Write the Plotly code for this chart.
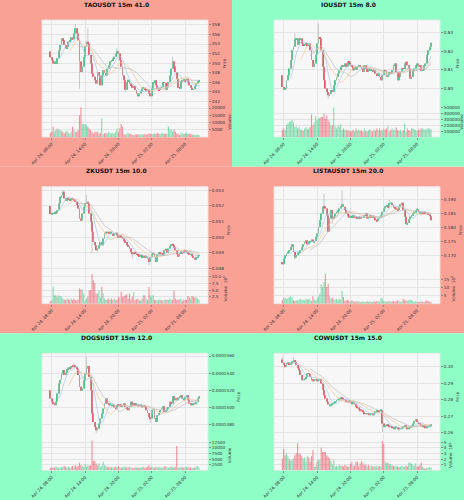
import pandas as pd
import plotly.graph_objects as go

# ---- data (108 x 15m candles per symbol) ----
times = pd.date_range("2025-04-24 07:45", periods=108, freq="15min")
tick_idx = [1, 25, 49, 73, 97]

tao_open0 = 352.4
tao_close = [
    351.2, 350.6, 349.9, 350.3, 349.8, 351.0, 352.7, 353.8, 355.2, 354.8,
    353.8, 353.1, 353.4, 354.5, 354.8, 355.4, 355.0, 356.2, 357.3, 356.2,
    354.8, 350.3, 348.1, 349.2, 351.3, 353.4, 354.5, 354.1, 351.7, 349.9,
    347.8, 347.1, 346.4, 345.7, 348.1, 347.4, 345.3, 347.4, 348.5, 347.9,
    347.4, 348.8, 349.5, 350.3, 350.6, 351.0, 351.3, 352.0, 352.5, 352.0,
    350.6, 349.2, 347.4, 346.4, 344.4, 346.0, 346.5, 345.7, 345.3, 344.8,
    345.1, 344.3, 343.6, 343.0, 343.6, 344.1, 344.6, 344.8, 344.4, 344.2,
    344.4, 343.6, 343.0, 344.6, 346.0, 346.4, 345.3, 344.6, 344.3, 344.8,
    344.9, 346.0, 345.8, 344.4, 345.1, 346.0, 347.4, 348.8, 350.3, 349.3,
    348.1, 346.7, 344.8, 344.6, 346.2, 346.4, 346.5, 346.2, 346.7, 346.0,
    345.3, 344.8, 344.4, 344.5, 345.1, 345.7, 346.2, 346.4]
tao_volume = [
    2950, 3600, 7000, 3600, 4800, 5900, 5200, 4800, 4300, 3600,
    2500, 3600, 4300, 2950, 2500, 3600, 7000, 4800, 3600, 3600,
    4800, 15000, 20500, 8900, 8900, 8900, 8200, 7000, 5900, 4800,
    3600, 2500, 3600, 3600, 3600, 2500, 2950, 12700, 2000, 2500,
    2950, 2500, 3600, 2950, 2500, 2950, 2500, 3600, 5900, 3600,
    6000, 8900, 7000, 2000, 1400, 2500, 2950, 2000, 2500, 1400,
    1400, 1800, 1600, 2000, 1800, 1600, 2000, 1800, 2000, 1600,
    2000, 2500, 2000, 2000, 2000, 2500, 2000, 2950, 2500, 2000,
    2500, 2950, 2000, 2500, 2000, 7500, 5900, 4800, 3600, 5200,
    3600, 2500, 2500, 1400, 2950, 2500, 2000, 2500, 2950, 2000,
    2500, 2000, 1800, 1600, 1600, 1400, 1500, 1400]
tao_high = {18: 358.2, 27: 357.3, 48: 353.1, 88: 351.3}
tao_low = {21: 344.6, 54: 343.9}

io_open0 = 0.8071
io_close = [
    0.8009, 0.7995, 0.8000, 0.8045, 0.8071, 0.8107, 0.8152, 0.8205, 0.8223, 0.8263,
    0.8268, 0.8232, 0.8263, 0.8268, 0.8241, 0.8232, 0.8236, 0.8241, 0.8232, 0.8241,
    0.8205, 0.8152, 0.8116, 0.8134, 0.8179, 0.8241, 0.8273, 0.8268, 0.8205, 0.8116,
    0.8045, 0.8000, 0.7982, 0.7964, 0.7973, 0.7991, 0.7982, 0.8018, 0.8045, 0.8062,
    0.8080, 0.8098, 0.8116, 0.8125, 0.8116, 0.8134, 0.8116, 0.8143, 0.8141, 0.8125,
    0.8116, 0.8098, 0.8116, 0.8102, 0.8116, 0.8125, 0.8116, 0.8107, 0.8089, 0.8125,
    0.8107, 0.8089, 0.8107, 0.8098, 0.8102, 0.8089, 0.8098, 0.8080, 0.8071, 0.8080,
    0.8062, 0.8045, 0.8071, 0.8098, 0.8096, 0.8062, 0.8071, 0.8089, 0.8080, 0.8098,
    0.8125, 0.8134, 0.8089, 0.8045, 0.8062, 0.8089, 0.8107, 0.8105, 0.8134, 0.8143,
    0.8125, 0.8107, 0.8054, 0.8062, 0.8098, 0.8107, 0.8125, 0.8134, 0.8116, 0.8125,
    0.8095, 0.8098, 0.8125, 0.8134, 0.8179, 0.8205, 0.8223, 0.8245]
io_volume = [
    117000, 144000, 117000, 200000, 228000, 256000, 272000, 283000, 256000, 172000,
    183000, 144000, 172000, 128000, 117000, 106000, 144000, 172000, 130000, 144000,
    172000, 383000, 200000, 250000, 350000, 283000, 311000, 328000, 339000, 339000,
    394000, 311000, 367000, 283000, 256000, 200000, 200000, 500000, 183000, 144000,
    200000, 172000, 217000, 117000, 144000, 117000, 128000, 106000, 117000, 89000,
    106000, 117000, 89000, 144000, 106000, 128000, 106000, 117000, 89000, 144000,
    106000, 89000, 117000, 128000, 106000, 89000, 128000, 106000, 144000, 117000,
    144000, 106000, 117000, 144000, 128000, 144000, 183000, 89000, 117000, 144000,
    117000, 128000, 160000, 117000, 106000, 128000, 89000, 117000, 228000, 89000,
    144000, 117000, 106000, 150000, 144000, 135000, 117000, 106000, 128000, 117000,
    144000, 144000, 130000, 117000, 140000, 150000, 145000, 130000]
io_high = {9: 0.8295, 26: 0.8348}
io_low = {33: 0.7946}

zk_open0 = 0.05198
zk_close = [
    0.05147, 0.05151, 0.05155, 0.05162, 0.05155, 0.05172, 0.05215, 0.05257, 0.05268, 0.05289,
    0.05247, 0.05236, 0.05247, 0.05240, 0.05236, 0.05247, 0.05240, 0.05236, 0.05226, 0.05204,
    0.05183, 0.05119, 0.05108, 0.05151, 0.05194, 0.05215, 0.05226, 0.05215, 0.05151, 0.05098,
    0.05034, 0.04970, 0.04949, 0.04917, 0.04928, 0.04949, 0.04970, 0.04949, 0.04991, 0.05023,
    0.05034, 0.05031, 0.05028, 0.05034, 0.05023, 0.05013, 0.05023, 0.05028, 0.05013, 0.05002,
    0.05013, 0.05002, 0.04991, 0.04981, 0.04970, 0.04949, 0.04942, 0.04928, 0.04906, 0.04891,
    0.04906, 0.04900, 0.04891, 0.04885, 0.04879, 0.04885, 0.04874, 0.04879, 0.04874, 0.04879,
    0.04864, 0.04842, 0.04874, 0.04891, 0.04896, 0.04874, 0.04842, 0.04891, 0.04906, 0.04891,
    0.04900, 0.04885, 0.04917, 0.04921, 0.04900, 0.04928, 0.04942, 0.04955, 0.04949, 0.04938,
    0.04917, 0.04891, 0.04879, 0.04900, 0.04906, 0.04900, 0.04917, 0.04913, 0.04906, 0.04900,
    0.04891, 0.04893, 0.04879, 0.04870, 0.04857, 0.04874, 0.04885, 0.04888]
zk_volume = [
    960000, 1330000, 6390000, 3130000, 3130000, 2530000, 3130000, 2770000, 2530000, 1930000,
    1570000, 1330000, 1930000, 1570000, 1330000, 1930000, 1330000, 1930000, 1330000, 1080000,
    1570000, 5540000, 5180000, 5180000, 3740000, 1080000, 1930000, 2530000, 4940000, 4940000,
    10900000, 8560000, 7590000, 3740000, 3740000, 4940000, 2290000, 6150000, 3740000, 1930000,
    1330000, 1570000, 1930000, 1330000, 1930000, 1330000, 1930000, 1330000, 1570000, 2530000,
    1930000, 4340000, 2530000, 2770000, 3130000, 3490000, 1930000, 3740000, 1570000, 2530000,
    4220000, 1330000, 1570000, 1930000, 1330000, 1080000, 1930000, 3130000, 3130000, 1930000,
    1330000, 6150000, 3130000, 2530000, 3130000, 1330000, 1330000, 1080000, 1570000, 1330000,
    1330000, 1080000, 1330000, 1570000, 1330000, 1330000, 1930000, 1570000, 1330000, 4700000,
    1930000, 1330000, 1570000, 1570000, 1930000, 1080000, 1570000, 1330000, 1330000, 2770000,
    2530000, 1930000, 2770000, 2530000, 2290000, 2290000, 1930000, 1570000]
zk_high = {9: 0.05300, 26: 0.05268}
zk_low = {30: 0.04896, 59: 0.04864, 71: 0.04821}

lista_open0 = 0.1677
lista_close = [
    0.1669, 0.1689, 0.1701, 0.1707, 0.1713, 0.1719, 0.1731, 0.1740, 0.1713, 0.1693,
    0.1701, 0.1710, 0.1713, 0.1719, 0.1731, 0.1740, 0.1749, 0.1755, 0.1740, 0.1749,
    0.1752, 0.1757, 0.1749, 0.1752, 0.1767, 0.1779, 0.1802, 0.1826, 0.1850, 0.1874,
    0.1876, 0.1868, 0.1844, 0.1785, 0.1832, 0.1862, 0.1832, 0.1838, 0.1850, 0.1856,
    0.1862, 0.1868, 0.1876, 0.1883, 0.1874, 0.1862, 0.1850, 0.1840, 0.1836, 0.1840,
    0.1838, 0.1844, 0.1838, 0.1836, 0.1832, 0.1838, 0.1832, 0.1836, 0.1838, 0.1844,
    0.1850, 0.1832, 0.1838, 0.1844, 0.1838, 0.1840, 0.1836, 0.1826, 0.1824, 0.1832,
    0.1836, 0.1844, 0.1856, 0.1868, 0.1876, 0.1880, 0.1874, 0.1886, 0.1888, 0.1880,
    0.1871, 0.1868, 0.1864, 0.1862, 0.1874, 0.1883, 0.1888, 0.1862, 0.1838, 0.1812,
    0.1817, 0.1829, 0.1838, 0.1844, 0.1850, 0.1856, 0.1860, 0.1864, 0.1856, 0.1852,
    0.1853, 0.1851, 0.1856, 0.1852, 0.1850, 0.1848, 0.1840, 0.1826]
lista_volume = [
    2080000, 3740000, 3740000, 3120000, 3120000, 4160000, 4580000, 3740000, 2080000, 1660000,
    2080000, 2080000, 2500000, 3120000, 2080000, 2500000, 2080000, 3120000, 2500000, 3120000,
    2500000, 1660000, 4580000, 2500000, 2080000, 3120000, 4580000, 6240000, 12100000, 10400000,
    13500000, 18600000, 10400000, 12500000, 4580000, 3120000, 3740000, 2500000, 2500000, 3120000,
    2080000, 3120000, 2500000, 7900000, 4160000, 1660000, 2080000, 2500000, 1660000, 1040000,
    2080000, 1660000, 1040000, 1460000, 1250000, 1460000, 1040000, 1250000, 1460000, 1250000,
    1040000, 1660000, 1250000, 1460000, 1040000, 1250000, 1460000, 1250000, 1660000, 1460000,
    1250000, 3740000, 3120000, 1660000, 1460000, 1250000, 1460000, 1660000, 1250000, 1460000,
    1660000, 1250000, 1460000, 2080000, 1660000, 1040000, 1660000, 3120000, 2080000, 2080000,
    1660000, 2080000, 2500000, 2080000, 1660000, 1250000, 1460000, 1250000, 1040000, 1250000,
    1660000, 1250000, 1040000, 1460000, 2080000, 1660000, 1250000, 1040000]
lista_high = {30: 0.1921, 43: 0.1933, 77: 0.1898}
lista_low = {36: 0.1814, 9: 0.1686}

dogs_open0 = 0.00015204
dogs_close = [
    0.00015107, 0.00015068, 0.00015041, 0.00015030, 0.00015068, 0.00015165, 0.00015282, 0.00015321, 0.00015398, 0.00015437,
    0.00015379, 0.00015406, 0.00015445, 0.00015468, 0.00015456, 0.00015484, 0.00015476, 0.00015487, 0.00015476, 0.00015456,
    0.00015379, 0.00015243, 0.00015196, 0.00015224, 0.00015321, 0.00015398, 0.00015456, 0.00015484, 0.00015359, 0.00015204,
    0.00014933, 0.00014836, 0.00014777, 0.00014739, 0.00014758, 0.00014816, 0.00014874, 0.00014933, 0.00014991, 0.00015049,
    0.00015107, 0.00015049, 0.00015030, 0.00015041, 0.00015018, 0.00015030, 0.00015010, 0.00014991, 0.00015030, 0.00015018,
    0.00015041, 0.00015010, 0.00015030, 0.00015049, 0.00015010, 0.00014991, 0.00014971, 0.00015010, 0.00015068, 0.00015030,
    0.00015049, 0.00015030, 0.00015041, 0.00015026, 0.00015018, 0.00015030, 0.00015010, 0.00015018, 0.00015010, 0.00014971,
    0.00014940, 0.00014894, 0.00014874, 0.00014971, 0.00014979, 0.00014874, 0.00014836, 0.00014913, 0.00014940, 0.00014971,
    0.00014991, 0.00015018, 0.00014952, 0.00014964, 0.00014991, 0.00015010, 0.00015068, 0.00015049, 0.00015134, 0.00015088,
    0.00015107, 0.00015088, 0.00015119, 0.00015127, 0.00015146, 0.00015107, 0.00015088, 0.00015127, 0.00015146, 0.00015088,
    0.00015049, 0.00015030, 0.00015034, 0.00015049, 0.00015041, 0.00015068, 0.00015107, 0.00015134]
dogs_volume = [
    1030, 1320, 1180, 1320, 1620, 1320, 1180, 1320, 1620, 1320,
    1910, 1620, 1320, 1620, 1180, 1620, 1910, 1620, 2350, 1620,
    1910, 3380, 2350, 1910, 1620, 2790, 1620, 2350, 1910, 2350,
    13300, 4260, 4260, 3090, 2350, 3090, 1620, 1910, 3820, 2350,
    1910, 1620, 1320, 1620, 1320, 1180, 1320, 1620, 1320, 1910,
    1320, 1180, 1320, 1620, 1320, 1180, 1320, 1620, 1320, 1180,
    1030, 1320, 1180, 1320, 1030, 1180, 1320, 1620, 1180, 1320,
    1620, 2350, 1320, 1620, 1320, 1180, 1620, 1320, 1620, 1320,
    1180, 1320, 1620, 1910, 1320, 1180, 1320, 1620, 1180, 1320,
    1620, 10900, 1320, 1180, 1620, 1320, 1180, 1320, 1620, 1320,
    1180, 1320, 1030, 1180, 1320, 1620, 1910, 1320]
dogs_high = {26: 0.00015592, 17: 0.00015520}
dogs_low = {33: 0.00014708, 72: 0.00014824}

cow_open0 = 0.3044
cow_close = [
    0.3024, 0.3010, 0.3000, 0.3020, 0.3024, 0.3010, 0.3024, 0.3030, 0.3040, 0.3030,
    0.3010, 0.2990, 0.2980, 0.2950, 0.2919, 0.2923, 0.2929, 0.2939, 0.2960, 0.2956,
    0.2939, 0.2919, 0.2915, 0.2919, 0.2923, 0.2915, 0.2919, 0.2923, 0.2899, 0.2859,
    0.2828, 0.2808, 0.2788, 0.2774, 0.2762, 0.2768, 0.2778, 0.2782, 0.2788, 0.2798,
    0.2802, 0.2808, 0.2814, 0.2808, 0.2802, 0.2798, 0.2788, 0.2786, 0.2798, 0.2788,
    0.2778, 0.2782, 0.2774, 0.2758, 0.2754, 0.2741, 0.2733, 0.2737, 0.2727, 0.2717,
    0.2713, 0.2717, 0.2711, 0.2713, 0.2717, 0.2711, 0.2721, 0.2727, 0.2733, 0.2727,
    0.2733, 0.2737, 0.2657, 0.2636, 0.2646, 0.2653, 0.2646, 0.2636, 0.2640, 0.2632,
    0.2626, 0.2632, 0.2636, 0.2626, 0.2622, 0.2626, 0.2632, 0.2640, 0.2646, 0.2636,
    0.2626, 0.2632, 0.2640, 0.2646, 0.2657, 0.2673, 0.2681, 0.2667, 0.2657, 0.2653,
    0.2640, 0.2646, 0.2636, 0.2632, 0.2636, 0.2640, 0.2644, 0.2649]
cow_volume = [
    2130000, 3850000, 2700000, 2990000, 2530000, 1960000, 1730000, 1840000, 2130000, 2700000,
    3110000, 4830000, 2990000, 2880000, 2530000, 2130000, 2300000, 1550000, 2530000, 2300000,
    1550000, 2530000, 3570000, 690000, 690000, 1550000, 1840000, 1960000, 4030000, 3280000,
    3280000, 3280000, 2700000, 2420000, 2130000, 1730000, 980000, 1840000, 690000, 810000,
    690000, 980000, 810000, 810000, 690000, 980000, 810000, 690000, 690000, 1150000,
    1550000, 810000, 810000, 1550000, 1550000, 690000, 1270000, 1730000, 1380000, 980000,
    980000, 690000, 980000, 690000, 810000, 690000, 810000, 690000, 810000, 690000,
    810000, 690000, 5290000, 4720000, 1550000, 1270000, 1380000, 980000, 1150000, 810000,
    810000, 690000, 810000, 690000, 580000, 690000, 810000, 690000, 580000, 810000,
    690000, 1380000, 1380000, 1150000, 980000, 810000, 1270000, 690000, 690000, 980000,
    1380000, 690000, 400000, 230000, 460000, 460000, 580000, 520000]
cow_high = {0: 0.3057, 8: 0.3060}
cow_low = {72: 0.2606, 84: 0.2612}

# price / volume tick values per panel
tao_ticks = [342, 344, 346, 348, 350, 352, 354, 356, 358]
io_ticks = [0.80, 0.81, 0.82, 0.83]
zk_ticks = [0.048, 0.049, 0.050, 0.051, 0.052, 0.053]
lista_ticks = [0.170, 0.175, 0.180, 0.185, 0.190]
dogs_ticks = [0.000148, 0.000150, 0.000152, 0.000154, 0.000156]
cow_ticks = [0.26, 0.27, 0.28, 0.29, 0.30]

tao_vticks = [5000, 10000, 15000, 20000]
io_vticks = [100000, 200000, 300000, 400000, 500000]
zk_vticks = [2.5e6, 5e6, 7.5e6, 10e6]
lista_vticks = [5e6, 10e6, 15e6]
dogs_vticks = [2500, 5000, 7500, 10000, 12500]
cow_vticks = [1e6, 2e6, 3e6, 4e6, 5e6]

SALMON, MINT = "#faa196", "#8efdc6"
UP, DOWN = "#3dc985", "#ef4f60"
VOL_UP, VOL_DOWN = "rgba(61,201,133,0.6)", "rgba(239,79,96,0.6)"
MAV = [(7, "#a8c8ec"), (14, "#f2c493"), (21, "#bdbdbd")]
GRID = "#e4e4e4"
FONT = "DejaVu Sans"

panels = [
    ("TAOUSDT", "41.0", SALMON, tao_open0, tao_close, tao_volume, tao_high, tao_low,
     tao_ticks, "d", [340.75, 359.05], tao_vticks, None, [0, 20700]),
    ("IOUSDT", "8.0", MINT, io_open0, io_close, io_volume, io_high, io_low,
     io_ticks, ".2f", [0.79017, 0.83661], io_vticks, None, [0, 510000]),
    ("ZKUSDT", "10.0", SALMON, zk_open0, zk_close, zk_volume, zk_high, zk_low,
     zk_ticks, ".3f", [0.04768, 0.053213], zk_vticks, 6, [0, 11.0e6]),
    ("LISTAUSDT", "20.0", SALMON, lista_open0, lista_close, lista_volume, lista_high, lista_low,
     lista_ticks, ".3f", [0.16358, 0.19452], lista_vticks, 6, [0, 18.8e6]),
    ("DOGSUSDT", "12.0", MINT, dogs_open0, dogs_close, dogs_volume, dogs_high, dogs_low,
     dogs_ticks, ".7f", [0.00014622, 0.00015631], dogs_vticks, None, [0, 13400]),
    ("COWUSDT", "15.0", MINT, cow_open0, cow_close, cow_volume, cow_high, cow_low,
     cow_ticks, ".2f", [0.25556, 0.30808], cow_vticks, 6, [0, 5.35e6]),
]

W, H = 464, 500
CW, CH = W / 2, H / 3
PL, PR = 42, 208          # plot area, local px
PT, SPLIT, VB = 20, 107, 137

tick_text = [times[i].strftime("%b %d, %H:%M") for i in tick_idx]
axis_font = dict(family=FONT, size=4.2, color="#333333")

fig = go.Figure()
layout = dict(width=W, height=H, margin=dict(l=0, r=0, t=0, b=0, autoexpand=False),
              paper_bgcolor="white", plot_bgcolor="rgba(0,0,0,0)",
              showlegend=False, font=dict(family=FONT, size=5, color="#222222"),
              shapes=[], annotations=[])


def ax(n, kind):
    return kind if n == 1 else f"{kind}{n}"


for k, (name, score, bg, open0, close, volume, high, low,
        pticks, pfmt, prange, vticks, vexp, vrange) in enumerate(panels):
    col, row = k % 2, k // 2
    x0, y0 = col * CW, row * CH
    a, b = 2 * k + 1, 2 * k + 2
    xd = [(x0 + PL) / W, (x0 + PR) / W]
    yd_p = [1 - (y0 + SPLIT) / H, 1 - (y0 + PT) / H]
    yd_v = [1 - (y0 + VB) / H, 1 - (y0 + SPLIT) / H]

    # backgrounds
    layout["shapes"].append(dict(type="rect", xref="paper", yref="paper", layer="below",
                                 x0=x0 / W, x1=(x0 + CW) / W, y0=1 - (y0 + CH) / H, y1=1 - y0 / H,
                                 fillcolor=bg, line_width=0))
    layout["shapes"].append(dict(type="rect", xref="paper", yref="paper", layer="below",
                                 x0=xd[0], x1=xd[1], y0=yd_v[0], y1=yd_p[1],
                                 fillcolor="#f7f7f7", line=dict(color="#e8e8e8", width=0.8)))

    opens = [open0] + close[:-1]
    idx = list(range(len(close)))
    up = [c >= o for o, c in zip(opens, close)]
    span = prange[1] - prange[0]

    # wicks
    wx, wy = [], []
    for i in idx:
        hi = high.get(i, max(opens[i], close[i]))
        lo = low.get(i, min(opens[i], close[i]))
        wx += [i, i, None]
        wy += [lo, hi, None]
    fig.add_trace(go.Scatter(x=wx, y=wy, mode="lines", line=dict(color="#b5b5b5", width=0.7),
                             xaxis=ax(a, "x"), yaxis=ax(a, "y"), hoverinfo="skip"))

    # moving averages
    s = pd.Series(close)
    for win, colr in MAV:
        fig.add_trace(go.Scatter(x=idx, y=s.rolling(win).mean(), mode="lines",
                                 line=dict(color=colr, width=0.7),
                                 xaxis=ax(a, "x"), yaxis=ax(a, "y"), hoverinfo="skip"))

    # bodies
    fig.add_trace(go.Bar(x=idx,
                         y=[max(abs(c - o), span * 0.004) for o, c in zip(opens, close)],
                         base=[min(o, c) for o, c in zip(opens, close)],
                         width=0.62, marker=dict(color=[UP if u else DOWN for u in up], line_width=0),
                         xaxis=ax(a, "x"), yaxis=ax(a, "y")))

    # volume
    fig.add_trace(go.Bar(x=idx, y=volume, width=0.8,
                         marker=dict(color=[VOL_UP if u else VOL_DOWN for u in up], line_width=0),
                         xaxis=ax(b, "x"), yaxis=ax(b, "y")))

    common_x = dict(domain=xd, range=[-6, 113.5], tickvals=tick_idx, showgrid=True,
                    gridcolor=GRID, gridwidth=0.6, zeroline=False, automargin=False)
    layout[ax(a, "xaxis")] = dict(common_x, anchor=ax(a, "y"), showticklabels=False, ticks="")
    layout[ax(b, "xaxis")] = dict(common_x, anchor=ax(b, "y"), ticktext=tick_text, tickangle=-45,
                                  tickfont=axis_font, ticks="outside", ticklen=2, tickcolor="#888",
                                  matches=ax(a, "x"))

    common_y = dict(side="right", tickfont=axis_font, ticks="outside", ticklen=2, tickcolor="#888",
                    showgrid=True, gridcolor=GRID, gridwidth=0.6, zeroline=False, automargin=False)
    layout[ax(a, "yaxis")] = dict(common_y, domain=yd_p, anchor=ax(a, "x"), range=prange,
                                  tickvals=pticks,
                                  ticktext=[format(t, pfmt) if pfmt != "d" else str(t) for t in pticks],
                                  title=dict(text="Price", font=axis_font, standoff=3))
    if vexp:
        vtext = [f"{v / 10 ** vexp:g}" for v in vticks]
        if name == "ZKUSDT":
            vtext = [f"{v / 1e6:.1f}" for v in vticks]
        vtitle = "Volume  10<sup>6</sup>"
    else:
        vtext = [str(int(v)) for v in vticks]
        vtitle = "Volume"
    layout[ax(b, "yaxis")] = dict(common_y, domain=yd_v, anchor=ax(b, "x"), range=vrange,
                                  tickvals=vticks, ticktext=vtext,
                                  title=dict(text=vtitle, font=axis_font, standoff=3))

    layout["annotations"].append(dict(text=f"<b>{name} 15m {score}</b>", xref="paper", yref="paper",
                                      x=(x0 + CW / 2) / W, y=1 - (y0 + 4) / H, showarrow=False,
                                      xanchor="center", yanchor="middle",
                                      font=dict(family=FONT, size=6, color="#111111")))

fig.update_layout(**layout)
# drop the browser's default body margin so the 464x500 figure fills the window
fig.write_html("out.html", config={"displayModeBar": False},
               post_script="document.body.style.margin='0';")
